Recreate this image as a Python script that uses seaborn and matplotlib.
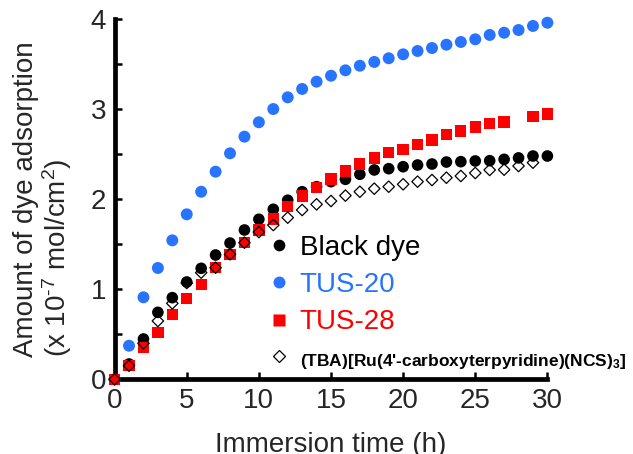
import numpy as np
import pandas as pd
import matplotlib
matplotlib.use("Agg")
import matplotlib.pyplot as plt
import seaborn as sns
from matplotlib.lines import Line2D
from matplotlib.ticker import MultipleLocator

# ---- data ----
hours = list(range(0, 31))

black_dye = [0, 0.17, 0.448, 0.744, 0.907, 1.081, 1.233, 1.381, 1.514, 1.659,
             1.778, 1.889, 1.99, 2.084, 2.14, 2.196, 2.222, 2.278, 2.326, 2.34,
             2.362, 2.381, 2.392, 2.414, 2.418, 2.426, 2.429, 2.444, 2.46, 2.481,
             2.481]

tus20 = [0, 0.373, 0.911, 1.237, 1.544, 1.833, 2.084, 2.307, 2.511, 2.696,
         2.856, 3.003, 3.133, 3.226, 3.307, 3.373, 3.433, 3.484, 3.526, 3.567,
         3.611, 3.648, 3.681, 3.718, 3.748, 3.778, 3.826, 3.851, 3.881, 3.926,
         3.962]

tus28_hours = list(range(0, 28)) + [29, 30]
tus28 = [0, 0.151, 0.351, 0.522, 0.718, 0.9, 1.051, 1.24, 1.389, 1.518,
         1.659, 1.781, 1.918, 2.037, 2.133, 2.226, 2.314, 2.392, 2.459, 2.522,
         2.556, 2.607, 2.659, 2.718, 2.759, 2.803, 2.844, 2.859, 2.918, 2.948]

tba_hours = list(range(0, 30))
tba = [0, 0.151, 0.4, 0.648, 0.844, 1.07, 1.185, 1.24, 1.389, 1.518,
       1.636, 1.714, 1.796, 1.881, 1.944, 1.981, 2.041, 2.084, 2.118, 2.14,
       2.167, 2.196, 2.214, 2.24, 2.259, 2.292, 2.326, 2.329, 2.37, 2.407]

labels = ["Black dye", "TUS-20", "TUS-28",
          "(TBA)[Ru(4'-carboxyterpyridine)(NCS)$_{\\mathbf{3}}$]"]
x_ticks = [0, 5, 10, 15, 20, 25, 30]
y_ticks = [0, 1, 2, 3, 4]

# ---- style ----
sns.set_style("ticks")
plt.rcParams["font.family"] = ["Liberation Sans", "DejaVu Sans"]
plt.rcParams["mathtext.fontset"] = "custom"
plt.rcParams["mathtext.rm"] = "Liberation Sans"
plt.rcParams["mathtext.it"] = "Liberation Sans:italic"
plt.rcParams["mathtext.bf"] = "Liberation Sans:bold"

BLUE = "#2874ff"
RED = "#ff0000"
BLACK = "#000000"

fig = plt.figure(figsize=(6.33, 4.54), dpi=100)
W, H = 633, 454
ax = fig.add_axes([114.6 / W, 1 - 379.3 / H, (547.4 - 114.6) / W, 360 / H])

df_black = pd.DataFrame({"h": hours, "v": black_dye})
df_blue = pd.DataFrame({"h": hours, "v": tus20})
df_red = pd.DataFrame({"h": tus28_hours, "v": tus28})
df_tba = pd.DataFrame({"h": tba_hours, "v": tba})

sns.scatterplot(data=df_black, x="h", y="v", ax=ax, marker="o", s=70,
                color=BLACK, edgecolor="none", linewidth=0, clip_on=False,
                zorder=3)
sns.scatterplot(data=df_blue, x="h", y="v", ax=ax, marker="o", s=74,
                color=BLUE, edgecolor="none", linewidth=0, clip_on=False,
                zorder=3)
sns.scatterplot(data=df_red, x="h", y="v", ax=ax, marker="s", s=66,
                color=RED, edgecolor="none", linewidth=0, clip_on=False,
                zorder=4)
sns.scatterplot(data=df_tba, x="h", y="v", ax=ax, marker="D", s=34,
                facecolor="none", edgecolor=BLACK, linewidth=0.9,
                clip_on=False, zorder=5)

ax.set_xlim(0, 30)
ax.set_ylim(0, 4)
ax.set_xticks(x_ticks)
ax.set_yticks(y_ticks)
ax.yaxis.set_minor_locator(MultipleLocator(0.5))
ax.set_xticklabels([str(t) for t in x_ticks])
ax.set_yticklabels([str(t) for t in y_ticks])

for side in ["top", "right"]:
    ax.spines[side].set_visible(False)
for side in ["left", "bottom"]:
    ax.spines[side].set_linewidth(3.4)
    ax.spines[side].set_color("black")

ax.tick_params(axis="both", which="both", direction="in", length=5,
               width=1.8, color="black", labelsize=20, pad=6)
ax.tick_params(axis="x", which="minor", bottom=False)

ax.set_xlabel("Immersion time (h)", fontsize=20, labelpad=13)
ax.set_ylabel("Amount of dye adsorption\n(x 10$^{\u20107}$ mol/cm$^{2}$)",
              fontsize=20, labelpad=12, multialignment="left",
              linespacing=1.05)

handles = [
    Line2D([], [], linestyle="none", marker="o", markersize=8.4,
           markerfacecolor=BLACK, markeredgecolor="none"),
    Line2D([], [], linestyle="none", marker="o", markersize=8.6,
           markerfacecolor=BLUE, markeredgecolor="none"),
    Line2D([], [], linestyle="none", marker="s", markersize=8.1,
           markerfacecolor=RED, markeredgecolor="none"),
    Line2D([], [], linestyle="none", marker="D", markersize=5.8,
           markerfacecolor="none", markeredgecolor=BLACK, markeredgewidth=0.9),
]
leg = ax.legend(handles, labels, loc="upper left",
                bbox_to_anchor=(265 / W, 1 - 235 / H),
                bbox_transform=fig.transFigure, frameon=False,
                fontsize=20, handlelength=1.0, handletextpad=0.25,
                labelspacing=0.4, borderpad=0, borderaxespad=0,
                labelcolor=[BLACK, BLUE, RED, BLACK])
txt = leg.get_texts()[3]
txt.set_fontsize(12.5)
txt.set_fontweight("bold")

fig.savefig("out.png", dpi=100)
